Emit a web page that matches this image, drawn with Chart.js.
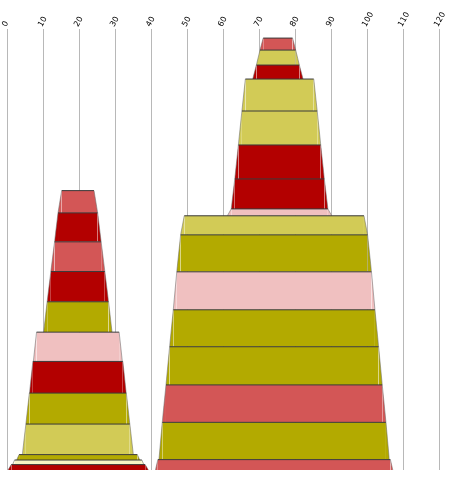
<!DOCTYPE html>
<html>
<head>
<meta charset="utf-8">
<script src="https://cdn.jsdelivr.net/npm/chart.js@4.4.1/dist/chart.umd.min.js"></script>
<style>
  html, body { margin: 0; padding: 0; background: #fff; }
  #wrap { width: 452px; height: 477px; }
</style>
</head>
<body>
<div id="wrap"><canvas id="c" width="452" height="477"></canvas></div>
<script>
// ---- tick labels (x axis, top) ----
const xTicks = [0, 10, 20, 30, 40, 50, 60, 70, 80, 90, 100, 110, 120];

// ---- colour names ----
const PAL = {
  lightRed: '#d35656',
  darkRed: '#b30000',
  olive: '#b3aa00',
  lightYellow: '#d2cb56',
  pink: '#f0c0c0',
  cream: '#f7f3c5'
};

// ---- left stack, layers listed bottom to top ----
const leftColors = ['darkRed', 'cream', 'olive', 'lightYellow', 'olive', 'darkRed', 'pink', 'olive', 'darkRed', 'lightRed', 'darkRed', 'lightRed'];
const leftHeights = [5.4, 4.6, 5.4, 30.6, 31, 31.7, 29.3, 30.4, 30.3, 29.7, 29, 22.3];
const leftBottomHalf = [19.49, 18.24, 17.1, 15.42, 14.44, 13.43, 12.36, 9.5, 8.53, 7.5, 6.47, 5.51];
const leftTopHalf = [18.6, 17.68, 16.43, 14.44, 13.47, 12.5, 11.47, 8.53, 7.5, 6.47, 5.51, 4.49];
const leftCenter = [19.64, 19.64, 19.64, 19.54, 19.54, 19.54, 19.54, 19.54, 19.54, 19.54, 19.54, 19.54];

// ---- right stack, layers listed bottom to top ----
const rightColors = ['lightRed', 'olive', 'lightRed', 'olive', 'olive', 'pink', 'olive', 'lightYellow', 'pink', 'darkRed', 'darkRed', 'lightYellow', 'lightYellow', 'darkRed', 'lightYellow', 'lightRed'];
const rightHeights = [10.4, 37.3, 37.5, 38.2, 37, 38, 37, 19.1, 6.9, 30, 34, 34, 32, 14, 15, 12];
const rightBottomHalf = [32.97, 31.99, 31.07, 30.04, 29.03, 28.01, 27.04, 25.97, 14.5, 13.43, 12.44, 11.44, 10.46, 6.99, 5.97, 4.96];
const rightTopHalf = [32.3, 31.07, 30.04, 29.03, 28.01, 27.04, 25.97, 24.96, 13.43, 12.44, 11.44, 10.46, 9.5, 5.97, 4.96, 4.08];
const rightCenter = [74.06, 74.06, 74.06, 74.06, 74.06, 74.06, 74.06, 74.06, 75.57, 75.57, 75.57, 75.57, 75.57, 75.1, 75.1, 75.1];

const Y_MAX = 442;

function buildStack(colors, heights, bHalf, tHalf, centers) {
  const out = [];
  let base = 0;
  for (let i = 0; i < heights.length; i++) {
    const yb = base, yt = base + heights[i];
    const c = centers[i];
    out.push({
      type: 'line',
      data: [
        { x: c - bHalf[i], y: yb },
        { x: c - tHalf[i], y: yt },
        { x: c + tHalf[i], y: yt },
        { x: c + bHalf[i], y: yb }
      ],
      backgroundColor: PAL[colors[i]],
      borderColor: '#9a9a9a',
      borderWidth: 1,
      fill: { value: yb },
      tension: 0,
      pointRadius: 0,
      pointHoverRadius: 0,
      segment: {
        borderColor: ctx => ctx.p0DataIndex === 1 ? '#3a3a3a' : 'rgba(110,110,110,0.55)'
      }
    });
    base = yt;
  }
  return out;
}

const datasets = [
  ...buildStack(leftColors, leftHeights, leftBottomHalf, leftTopHalf, leftCenter),
  ...buildStack(rightColors, rightHeights, rightBottomHalf, rightTopHalf, rightCenter)
];

new Chart(document.getElementById('c'), {
  type: 'scatter',
  data: { datasets },
  options: {
    responsive: false,
    animation: false,
    devicePixelRatio: 1,
    layout: { padding: { left: 7.5, right: 12.5, top: 0, bottom: 7 } },
    plugins: { legend: { display: false }, tooltip: { enabled: false } },
    elements: { line: { tension: 0 } },
    scales: {
      x: {
        type: 'linear',
        position: 'top',
        min: 0,
        max: 120,
        afterBuildTicks: s => { s.ticks = xTicks.map(v => ({ value: v })); },
        ticks: {
          autoSkip: false,
          minRotation: 60,
          maxRotation: 60,
          padding: 0,
          labelOffset: 5,
          color: '#000',
          font: { family: 'DejaVu Sans', size: 8 }
        },
        grid: { color: '#b8b8b8', lineWidth: 1, drawTicks: false },
        border: { display: false },
        afterFit: s => { s.height = 28.5; s.paddingLeft = 0; s.paddingRight = 0; }
      },
      y: {
        type: 'linear',
        min: 0,
        max: Y_MAX,
        display: false
      }
    }
  }
});
</script>
</body>
</html>
